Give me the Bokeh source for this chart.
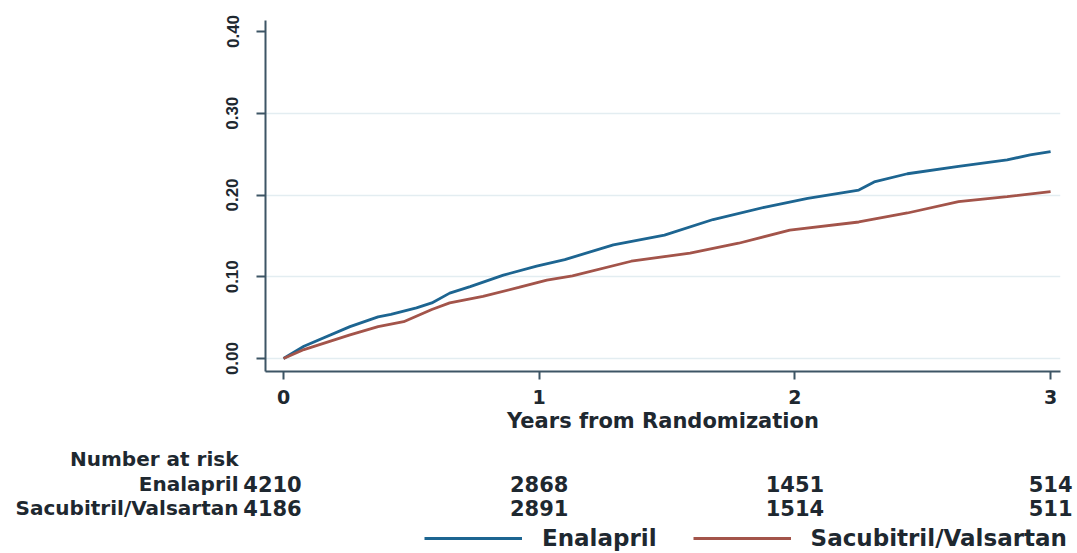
from bokeh.plotting import figure
from bokeh.models import (Range1d, FixedTicker, ColumnDataSource, Legend, LegendItem,
                          NumeralTickFormatter)
from bokeh.layouts import column
from bokeh.embed import file_html
from bokeh.resources import INLINE
from bokeh.core.properties import value

# ---------------- data ----------------
enal_t = [0, 0.08, 0.26, 0.37, 0.42, 0.52, 0.58, 0.65, 0.73, 0.86, 0.99, 1.10, 1.29,
          1.49, 1.68, 1.88, 2.05, 2.25, 2.31, 2.44, 2.64, 2.83, 2.92, 3.0]
enal_y = [0, 0.015, 0.039, 0.051, 0.054, 0.062, 0.068, 0.080, 0.088, 0.102, 0.113, 0.121, 0.139,
          0.151, 0.170, 0.185, 0.196, 0.206, 0.216, 0.226, 0.235, 0.243, 0.249, 0.253]
sv_t = [0, 0.08, 0.26, 0.37, 0.47, 0.58, 0.65, 0.78, 0.92, 1.03, 1.13, 1.36, 1.59,
        1.78, 1.98, 2.25, 2.44, 2.64, 2.83, 3.0]
sv_y = [0, 0.011, 0.029, 0.039, 0.045, 0.060, 0.068, 0.076, 0.087, 0.096, 0.101, 0.119, 0.129,
        0.141, 0.157, 0.167, 0.178, 0.192, 0.198, 0.204]
x_ticks = [0, 1, 2, 3]
y_ticks = [0.0, 0.1, 0.2, 0.3, 0.4]
grid_ticks = [0.0, 0.1, 0.2, 0.3]
risk_times = [0, 1, 2, 3]
risk_enal = [4210, 2868, 1451, 514]
risk_sv = [4186, 2891, 1514, 511]
groups = ["Enalapril", "Sacubitril/Valsartan"]
risk_title = "Number at risk"
x_title = "Years from Randomization"

# ---------------- layout constants ----------------
W = 1077
H = 553
PX0 = 283.0      # pixel of t = 0
PXU = 255.7      # pixels per year
PY0 = 359.0      # pixel of y = 0
PYU = 820.0      # pixels per unit of y
FL, FR, FT, FB = 265, 1060, 20, 372
H1 = 435
H2 = H - H1

BLUE = "#1d6591"
RED = "#a3544a"
TXT = "#1e2830"
AX = "#3d5565"
FONT = "DejaVu Sans"

p1 = figure(width=W, height=H1,
            x_range=Range1d((FL - PX0) / PXU, (FR - PX0) / PXU),
            y_range=Range1d((PY0 - FB) / PYU, (PY0 - FT) / PYU),
            min_border_left=FL, min_border_right=W - FR,
            min_border_top=FT, min_border_bottom=H1 - FB,
            output_backend="svg", toolbar_location=None)
p1.frame_align = False
p1.outline_line_color = None
p1.background_fill_color = "white"
p1.border_fill_color = "white"

p1.xgrid.visible = False
p1.ygrid.ticker = FixedTicker(ticks=grid_ticks)
p1.ygrid.grid_line_color = "#e3edf1"
p1.ygrid.grid_line_width = 1.5

p1.xaxis.ticker = FixedTicker(ticks=x_ticks)
p1.yaxis.ticker = FixedTicker(ticks=y_ticks)
p1.yaxis.formatter = NumeralTickFormatter(format="0.00")
p1.yaxis.major_label_orientation = "vertical"
for ax in (p1.xaxis[0], p1.yaxis[0]):
    ax.axis_line_color = AX
    ax.axis_line_width = 2
    ax.major_tick_line_color = AX
    ax.major_tick_line_width = 2
    ax.major_tick_in = 0
    ax.minor_tick_line_color = None
    ax.major_label_text_color = TXT
    ax.major_label_text_font_style = "bold"
p1.xaxis.major_tick_out = 8
p1.yaxis.major_tick_out = 9
p1.xaxis.major_label_text_font = FONT
p1.xaxis.major_label_text_font_size = "19px"
p1.xaxis.major_label_standoff = 10
p1.yaxis.major_label_text_font = "Liberation Sans"
p1.yaxis.major_label_text_font_size = "17px"
p1.yaxis.major_label_standoff = 18
p1.xaxis.axis_label = x_title
p1.xaxis.axis_label_text_font = FONT
p1.xaxis.axis_label_text_font_size = "21px"
p1.xaxis.axis_label_text_font_style = "bold"
p1.xaxis.axis_label_text_color = TXT
p1.xaxis.axis_label_standoff = 2

p1.line(enal_t, enal_y, line_color=BLUE, line_width=2.8)
p1.line(sv_t, sv_y, line_color=RED, line_width=2.8)

# ---------------- number at risk + legend (frame spans the whole width) ----------------
p2 = figure(width=W, height=H2,
            x_range=Range1d(-PX0 / PXU, (W - PX0) / PXU),
            y_range=Range1d(H2, 0),
            min_border=0, min_border_left=0, min_border_right=0,
            min_border_top=0, min_border_bottom=0,
            x_axis_type=None, y_axis_type=None,
            output_backend="svg", toolbar_location=None)
p2.frame_align = False
p2.grid.visible = False
p2.outline_line_color = None
p2.background_fill_color = "white"
p2.border_fill_color = "white"

ROW_TITLE_Y = 23
ROW_Y = [48, 72]
LABEL_X = (238 - PX0) / PXU

n_src = ColumnDataSource(dict(
    x=risk_times + risk_times,
    y=[ROW_Y[0]] * len(risk_times) + [ROW_Y[1]] * len(risk_times),
    text=[str(v) for v in risk_enal] + [str(v) for v in risk_sv],
    xo=[-11, 0, 0, 0, -11, 0, 0, 0],
))
p2.text(x="x", y="y", text="text", x_offset="xo", source=n_src,
        text_font=value(FONT), text_font_style="bold", text_font_size="21px",
        text_color=TXT, text_align="center", text_baseline="alphabetic")

lab_src = ColumnDataSource(dict(
    x=[LABEL_X] * 3,
    y=[ROW_TITLE_Y] + ROW_Y,
    text=[risk_title] + groups,
))
p2.text(x="x", y="y", text="text", source=lab_src,
        text_font=value(FONT), text_font_style="bold", text_font_size="20px",
        text_color=TXT, text_align="right", text_baseline="alphabetic")

nan = float("nan")
r_e = p2.line([nan], [nan], line_color=BLUE, line_width=3)
r_s = p2.line([nan], [nan], line_color=RED, line_width=3)
leg = Legend(items=[LegendItem(label=groups[0], renderers=[r_e]),
                    LegendItem(label=groups[1], renderers=[r_s])],
             orientation="horizontal", location=(424, 2),
             glyph_width=98, glyph_height=26, label_standoff=20, spacing=36,
             padding=0, margin=0, border_line_alpha=0, background_fill_alpha=0,
             label_text_font=FONT, label_text_font_style="bold",
             label_text_font_size="23px", label_text_color=TXT)
p2.add_layout(leg)

layout = column(p1, p2, spacing=0)
open("out.html", "w").write(file_html(layout, INLINE))
